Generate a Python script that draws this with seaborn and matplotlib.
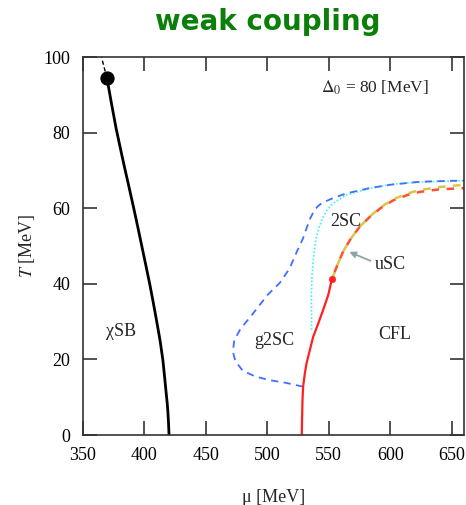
import matplotlib
matplotlib.use("Agg")
import matplotlib.pyplot as plt
import seaborn as sns
import pandas as pd

# ---- data (mu [MeV], T [MeV]) ----
chi_mu = [420, 419.6, 419.1, 418.5, 417.7, 416.5, 415, 412.7, 410, 407.2, 404.2,
          401, 397.7, 394.4, 391, 387.5, 384, 380.5, 377, 373, 369.5]
chi_T = [0, 3, 6, 8.5, 11, 15, 19.8, 25, 30, 35, 40.1,
         45.1, 50.2, 55.3, 60.4, 65.5, 70.5, 75.7, 81, 88, 94.4]
chi_dash_mu = [369.5, 365]
chi_dash_T = [94.4, 100]
cep_mu, cep_T = 369.5, 94.4

red_mu = [528, 528.3, 528.6, 529.1, 530.5, 531.9, 534.6, 537.3, 541.4, 545.4, 549.5, 552.5]
red_T = [0, 5, 9.3, 12.8, 16.3, 19, 22.5, 26, 29.5, 33.1, 37, 41.2]
tcp_mu, tcp_T = 552.5, 41.2

reddash_mu = [552.5, 557, 561.6, 568, 575.2, 583.3, 592, 602, 614, 624, 640, 660]
reddash_T = [41.2, 45, 48.5, 52, 55.1, 57.7, 60, 62, 63.5, 64.3, 65, 65.3]
yel_mu = [552.5, 557, 561.6, 568, 575.2, 583.3, 592, 602, 614, 624, 640, 660]
yel_T = [41.2, 45, 48.5, 52, 55.1, 57.8, 60.2, 62.3, 63.9, 64.8, 65.6, 66.2]

blue_mu = [529, 515, 502, 490, 480, 474, 472, 473, 478, 488, 500, 510, 518,
           524, 529, 532, 535, 538, 541, 545, 553, 564, 583, 600, 624, 645, 660]
blue_T = [12.8, 13.8, 14.5, 15.5, 17, 19.5, 22, 25, 28, 32, 37, 40.2, 44,
          48.5, 52, 54.8, 57.4, 59.3, 60.5, 61.5, 62.6, 63.9, 65.3, 66.2, 67, 67.2, 67.3]

cyan_mu = [536, 535.9, 535.9, 536.3, 537.2, 538.3, 540, 542.5, 545.4, 549, 553.5,
           564, 583, 600, 624, 660]
cyan_T = [27.8, 34.8, 38, 42, 45.4, 49, 52.5, 55.3, 57.7, 59.7, 61.3,
          63.5, 65.2, 66.3, 66.9, 67.3]

labels = ["χSB", "g2SC", "2SC", "CFL", "uSC"]
label_mu = [381, 506, 564, 604, 600]
label_T = [27.3, 25, 56.4, 26.5, 45.2]

x_ticks = [350, 400, 450, 500, 550, 600, 650]
y_ticks = [0, 20, 40, 60, 80, 100]

sns.set_style("ticks")
plt.rcParams['font.family'] = ['Liberation Serif', 'DejaVu Serif']
plt.rcParams['mathtext.fontset'] = 'stix'

fig = plt.figure(figsize=(4.66, 5.05), dpi=100)
ax = fig.add_axes([83/466, 70/505, 381/466, 378/505])

def line(mu, T, **kw):
    df = pd.DataFrame({"mu": mu, "T": T})
    sns.lineplot(data=df, x="mu", y="T", sort=False, estimator=None, ax=ax, **kw)

line(chi_mu, chi_T, color="black", lw=2.0)
line(chi_dash_mu, chi_dash_T, color="black", lw=1.0, linestyle=(0, (3, 2)))
line(cyan_mu, cyan_T, color="#40f0f0", lw=1.2, linestyle=(0, (1, 1.2)))
line(blue_mu, blue_T, color="#3f6fff", lw=1.3, linestyle=(0, (4, 3)))
line(red_mu, red_T, color="#ff2020", lw=1.6)
line(yel_mu, yel_T, color="#d8c840", lw=1.8, linestyle=(0, (3, 3)))
line(reddash_mu, reddash_T, color="#ff5030", lw=1.8, linestyle=(3, (3, 3)))

sns.scatterplot(x=[cep_mu], y=[cep_T], color="black", s=90, ax=ax, zorder=5, edgecolor="black")
sns.scatterplot(x=[tcp_mu], y=[tcp_T], color="#ff2020", s=22, ax=ax, zorder=5, edgecolor="#ff2020")

fs = 13
for lab, m, t in zip(labels, label_mu, label_T):
    ax.text(m, t, lab, fontsize=fs, ha="center", va="center")
ax.annotate("", xy=(564.6, 48.7), xytext=(586, 45.8),
            arrowprops=dict(arrowstyle="-|>", color="#8fa4a8", lw=1.3, mutation_scale=9))
ax.text(544, 91.8, "$\\Delta_0$ = 80 [MeV]", fontsize=12.5, ha="left", va="center")

ax.set_xlim(350, 660)
ax.set_ylim(0, 100)
ax.set_xticks(x_ticks)
ax.set_yticks(y_ticks)
ax.tick_params(direction="in", length=10, width=1.2, top=True, right=True,
               labelsize=fs, colors="#333333", labelcolor="black", pad=9)
for s in ax.spines.values():
    s.set_linewidth(1.2)
    s.set_color("#333333")
ax.set_xlabel("μ [MeV]", fontsize=fs, labelpad=17.5)
ax.set_ylabel("$T$ [MeV]", fontsize=fs, labelpad=5)

fig.text(268/466, 1 - 22/505, "weak coupling", color="#0a800a", fontsize=20,
         fontweight="bold", ha="center", va="center", family="DejaVu Sans")

fig.savefig("out.png", dpi=100)
